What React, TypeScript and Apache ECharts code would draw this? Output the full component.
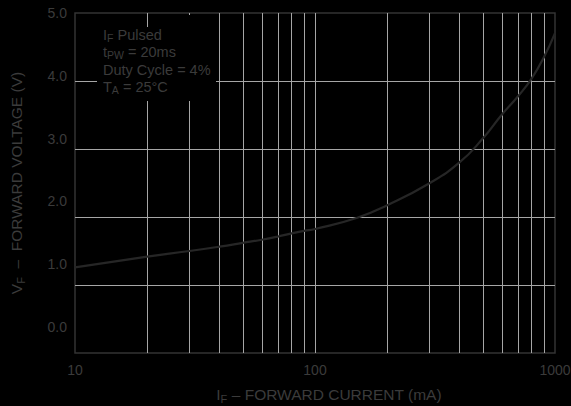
import React, { useEffect, useRef } from "react";
import * as echarts from "echarts";

const currentMA = [10, 20, 30, 40, 50, 60, 70, 80, 90, 100, 150, 200, 300, 400, 500, 600, 700, 800, 900, 1000];
const forwardV = [0.95, 1.12, 1.21, 1.28, 1.34, 1.39, 1.44, 1.49, 1.53, 1.56, 1.74, 1.94, 2.29, 2.62, 3.0, 3.38, 3.67, 3.96, 4.3, 4.68];
const minorGrid = [20, 30, 40, 50, 60, 70, 80, 90, 200, 300, 400, 500, 600, 700, 800, 900];
const yTicks = ["0.0", "1.0", "2.0", "3.0", "4.0", "5.0"];
const noteLines = ["{t|I}{s|F}{t| Pulsed}", "{t|t}{s|PW}{t| = 20ms}", "{t|Duty Cycle = 4%}", "{t|T}{s|A}{t| = 25°C}"];

const TXT = "#3b3b3b";
const GRID = "#a6a6a6";
const FONT = "Liberation Sans, Arial, Helvetica, sans-serif";

// plot box
const PL = 75, PT = 13, PW = 480, PH = 340;
// label-only x axis extended a little on each side so that 10 and 1000 are not edge labels
const EXT = 0.06;
const EXT_PX = (PW / 2) * EXT;

export default function App() {
  const ref = useRef<HTMLDivElement>(null);
  useEffect(() => {
    document.body.style.margin = "0";
    document.body.style.background = "#000";
    const chart = echarts.init(ref.current!, null, { renderer: "svg" });
    const rich = {
      t: { fontSize: 15.5, color: TXT, fontFamily: FONT, lineHeight: 19 },
      s: { fontSize: 11, color: TXT, fontFamily: FONT, lineHeight: 19, verticalAlign: "bottom", padding: [5, 0, 0, 0] },
    };
    const richNote = {
      t: { fontSize: 14.5, color: TXT, fontFamily: FONT, lineHeight: 17.5 },
      s: { fontSize: 10.5, color: TXT, fontFamily: FONT, lineHeight: 17.5, verticalAlign: "bottom", padding: [5, 0, 0, 0] },
    };
    chart.setOption({
      animation: false,
      backgroundColor: "#000",
      grid: [
        { left: PL, top: PT, width: PW, height: PH, show: true, borderColor: "#333", borderWidth: 1.5, backgroundColor: "transparent", outerBoundsMode: "none", containLabel: false },
        { left: PL, top: PT, width: PW, height: 314, show: false, outerBoundsMode: "none", containLabel: false },
        { left: PL - EXT_PX, top: PT, width: PW + 2 * EXT_PX, height: PH, show: false, outerBoundsMode: "none", containLabel: false },
      ],
      xAxis: [
        {
          type: "log", logBase: 10, min: 10, max: 1000, gridIndex: 0,
          axisLine: { show: false }, axisTick: { show: false }, axisLabel: { show: false },
          splitLine: { show: true, showMinLine: false, showMaxLine: false, lineStyle: { color: GRID, width: 1 } },
          name: "{t|I}{s|F}{t| – FORWARD CURRENT (mA)}",
          nameLocation: "middle", nameGap: 32,
          nameTextStyle: { rich, padding: [0, 0, 0, 28] },
        },
        { type: "log", logBase: 10, min: 10, max: 1000, gridIndex: 1, show: false },
        {
          type: "log", logBase: 10, min: Math.pow(10, 1 - EXT), max: Math.pow(10, 3 + EXT), gridIndex: 2,
          axisLine: { show: false }, axisTick: { show: false }, splitLine: { show: false },
          axisLabel: {
            color: TXT, fontSize: 14, fontFamily: FONT, margin: 10,
            formatter: (v: number) => {
              const l = Math.log10(v);
              return Math.abs(l - Math.round(l)) < 1e-6 ? String(Math.round(v)) : "";
            },
          },
        },
      ],
      yAxis: [
        {
          type: "value", min: 0, max: 5, interval: 1, gridIndex: 0,
          axisLine: { show: false }, axisTick: { show: false }, axisLabel: { show: false },
          splitLine: { show: true, showMinLine: false, showMaxLine: false, lineStyle: { color: GRID, width: 1 } },
          name: "{t|V}{s|F}{t|  –  FORWARD VOLTAGE (V)}",
          nameLocation: "middle", nameGap: 49, nameRotate: 90,
          nameTextStyle: { rich },
        },
        {
          type: "value", min: 0, max: 5, interval: 1, gridIndex: 1,
          axisLine: { show: false }, axisTick: { show: false }, splitLine: { show: false },
          axisLabel: {
            color: TXT, fontSize: 14, fontFamily: FONT, margin: 8,
            formatter: (v: number) => yTicks[Math.round(v)],
          },
        },
        { type: "value", min: 0, max: 5, gridIndex: 2, show: false },
      ],
      series: [
        {
          type: "line", xAxisIndex: 0, yAxisIndex: 0, data: [[10, 0]], showSymbol: false,
          lineStyle: { opacity: 0 }, silent: true, z: 1,
          markLine: {
            silent: true, symbol: ["none", "none"], label: { show: false },
            lineStyle: { color: GRID, type: "solid", width: 1 },
            data: minorGrid.map((v) => ({ xAxis: v })),
          },
        },
        {
          type: "line", xAxisIndex: 1, yAxisIndex: 1, smooth: true, showSymbol: false, symbol: "none",
          data: currentMA.map((c, i) => [c, forwardV[i]]),
          lineStyle: { color: "#262626", width: 2.2 }, z: 5, clip: false,
        },
      ],
      graphic: [
        { type: "rect", z: 100, shape: { x: 97, y: 27, width: 119, height: 74 }, style: { fill: "#000" } },
        { type: "rect", z: 100, shape: { x: 160, y: 15, width: 56, height: 63 }, style: { fill: "#000" } },
        {
          type: "text", z: 101, left: 103, top: 27,
          style: { text: noteLines.join("\n"), rich: richNote, fill: TXT, font: "14.5px " + FONT },
        },
      ],
    });
    return () => chart.dispose();
  }, []);
  return <div ref={ref} style={{ width: 571, height: 406 }} />;
}
